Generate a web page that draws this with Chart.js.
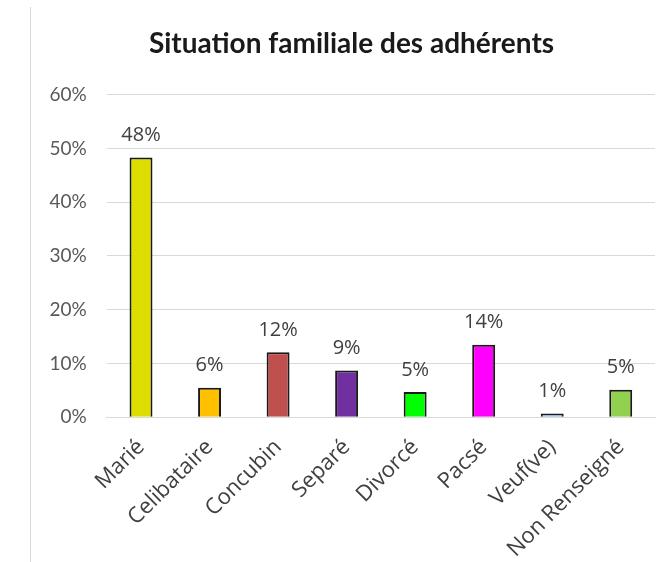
<!DOCTYPE html>
<html>
<head>
<meta charset="utf-8">
<script src="https://cdn.jsdelivr.net/npm/chart.js@4.4.0/dist/chart.umd.min.js"></script>
<style>
  html, body { margin: 0; padding: 0; background: #fff; }
  #wrap { position: relative; width: 659px; height: 562px; }
  #frame { position: absolute; left: 30px; top: 7px; width: 1px; height: 555px; background: #d9d9d9; }
  canvas { position: absolute; left: 0; top: 0; }
</style>
</head>
<body>
<div id="wrap">
  <div id="frame"></div>
  <canvas id="chart" width="659" height="562"></canvas>
</div>
<script>
// Situation familiale des adhérents
const categories = ['Marié', 'Celibataire', 'Concubin', 'Separé', 'Divorcé', 'Pacsé', 'Veuf(ve)', 'Non Renseigné'];
const shares = [48.3, 5.5, 12.1, 8.7, 4.7, 13.5, 0.7, 5.1];
const barColors = ['#dddd00', '#ffc000', '#c0504d', '#7030a0', '#00ff00', '#ff00ff', '#8db3e2', '#92d050'];
const yTicks = [0, 10, 20, 30, 40, 50, 60];

const TITLE_FONT = 'Lato, sans-serif';
const TEXT_FONT = '"Open Sans", sans-serif';

// draws the rounded % above each bar
const valueLabels = {
  id: 'valueLabels',
  afterDatasetsDraw(chart) {
    const ctx = chart.ctx;
    const meta = chart.getDatasetMeta(0);
    ctx.save();
    ctx.font = '20px ' + TEXT_FONT;
    ctx.fillStyle = '#404040';
    ctx.textAlign = 'center';
    ctx.textBaseline = 'alphabetic';
    meta.data.forEach((bar, i) => {
      ctx.fillText(Math.round(shares[i]) + '%', bar.x, bar.y - 16.5);
    });
    ctx.restore();
  }
};

const chart = new Chart(document.getElementById('chart'), {
  type: 'bar',
  data: {
    labels: categories,
    datasets: [{
      data: shares,
      backgroundColor: barColors,
      borderColor: '#1a1a1a',
      borderWidth: 2,
      categoryPercentage: 1,
      barPercentage: 0.335
    }]
  },
  options: {
    responsive: false,
    animation: false,
    layout: { padding: { left: 48, right: 4, top: 0, bottom: 0 } },
    plugins: {
      legend: { display: false },
      tooltip: { enabled: false },
      title: {
        display: true,
        text: 'Situation familiale des adhérents',
        color: '#1a1a1a',
        font: { family: TITLE_FONT, size: 28, weight: 'bold', lineHeight: 1.2 },
        padding: { top: 27, bottom: 34 }
      }
    },
    scales: {
      x: {
        grid: { display: false },
        border: { color: '#d9d9d9', width: 1 },
        ticks: {
          color: '#404040',
          font: { family: TEXT_FONT, size: 22 },
          maxRotation: 45,
          minRotation: 45,
          padding: 9
        },
        afterFit(scale) { scale.height = 144.7; }
      },
      y: {
        min: 0,
        max: 60,
        afterBuildTicks(scale) { scale.ticks = yTicks.map(v => ({ value: v })); },
        grid: { color: '#d9d9d9', lineWidth: 1, drawTicks: false },
        border: { display: false },
        ticks: {
          color: '#595959',
          font: { family: TITLE_FONT, size: 19 },
          padding: 20,
          callback: v => v + '%'
        },
        afterFit(scale) { scale.width = 58.75; }
      }
    }
  },
  plugins: [valueLabels]
});
</script>
</body>
</html>
